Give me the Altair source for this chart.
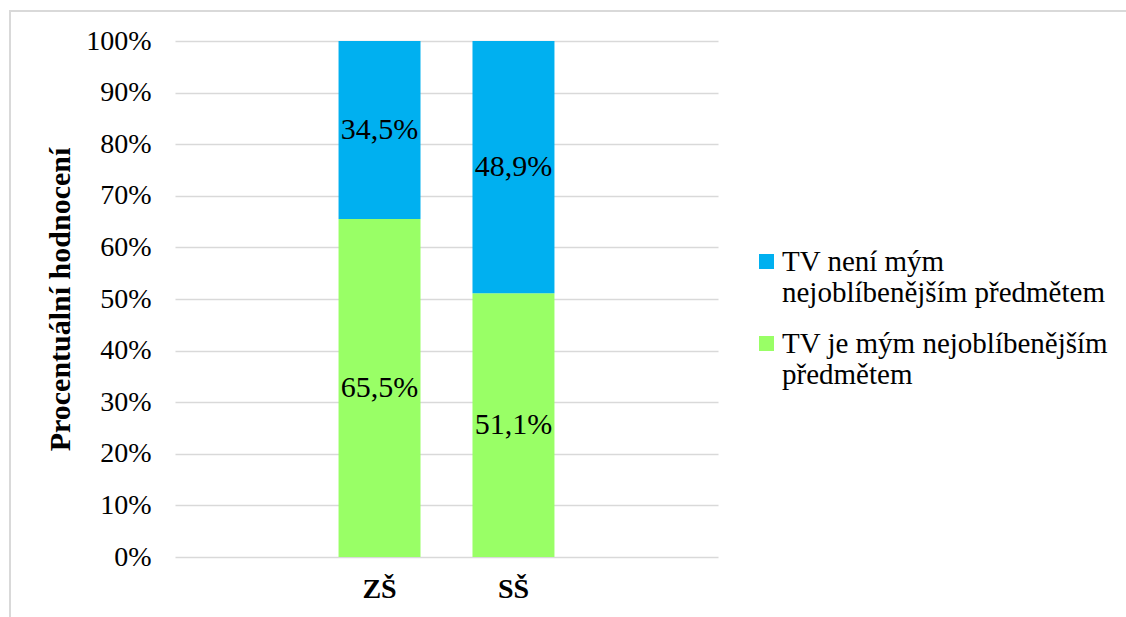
import altair as alt
import pandas as pd

# School level categories and the share of each answer (percent)
levels = ["ZŠ", "SŠ"]
x_slots = [" ", "ZŠ", "SŠ", "  "]  # empty slots either side of the two bars
answers = ["TV není mým nejoblíbenějším předmětem", "TV je mým nejoblíbenějším předmětem"]
share_favourite = [65.5, 51.1]
share_not_favourite = [34.5, 48.9]
colors = ["#00B0F0", "#99FF66"]
y_ticks = [0, 10, 20, 30, 40, 50, 60, 70, 80, 90, 100]

rows = []
for i, lvl in enumerate(levels):
    rows.append({"level": lvl, "answer": answers[1], "order": 0, "value": share_favourite[i]})
    rows.append({"level": lvl, "answer": answers[0], "order": 1, "value": share_not_favourite[i]})
df = pd.DataFrame(rows)

FONT = "'Times New Roman', 'Liberation Serif', 'DejaVu Serif', serif"
GRID = "#D9D9D9"

x_scale = alt.Scale(domain=x_slots, paddingInner=0.388, paddingOuter=0.221)

bars = alt.Chart(df).mark_bar().encode(
    x=alt.X(
        "level:N",
        scale=x_scale,
        axis=alt.Axis(
            title=None, labelAngle=0, labelFont=FONT, labelFontSize=28,
            labelFontWeight="bold", labelColor="#000000", labelPadding=18,
            ticks=False, domain=False,
        ),
    ),
    y=alt.Y(
        "value:Q",
        stack="zero",
        scale=alt.Scale(domain=[0, 100]),
        axis=alt.Axis(
            values=y_ticks, labelExpr="datum.value + '%'", title="Procentuální hodnocení",
            titleFont=FONT, titleFontSize=30, titleFontWeight="bold", titleColor="#000000",
            titlePadding=10, labelFont=FONT, labelFontSize=28, labelColor="#000000",
            labelPadding=24, ticks=False, domain=False, grid=True, gridColor=GRID,
            gridWidth=1.5,
        ),
    ),
    color=alt.Color(
        "answer:N",
        scale=alt.Scale(domain=answers, range=colors),
        legend=alt.Legend(
            title=None, orient="none", legendX=577, legendY=206,
            symbolType="square", symbolSize=225, symbolStrokeWidth=0,
            labelFont=FONT, labelFontSize=29, labelColor="#000000", labelLimit=400,
            labelOffset=1, rowPadding=21, padding=0,
            labelExpr="datum.label == 'TV není mým nejoblíbenějším předmětem' ? ['TV není mým', 'nejoblíbenějším předmětem'] : ['TV je mým nejoblíbenějším', 'předmětem']",
        ),
    ),
    order=alt.Order("order:Q"),
)

labels = alt.Chart(df).transform_stack(
    stack="value", groupby=["level"], as_=["y0", "y1"], sort=[alt.SortField("order")]
).transform_calculate(
    mid="(datum.y0 + datum.y1) / 2",
    txt="replace(format(datum.value, '.1f'), '.', ',') + '%'",
).mark_text(font=FONT, fontSize=30, color="#000000", baseline="middle").encode(
    x=alt.X("level:N", scale=x_scale),
    y=alt.Y("mid:Q"),
    text="txt:N",
)

# Light outer frame around the whole figure
frame = alt.Chart(pd.DataFrame({"k": [0]})).mark_rect(
    fill=None, stroke=GRID, strokeWidth=2, clip=False
).encode(
    x=alt.value(-165), x2=alt.value(960), y=alt.value(-30), y2=alt.value(600)
)

chart = alt.layer(frame, bars, labels).properties(
    width=543, height=516,
    autosize=alt.AutoSizeParams(type="none"),
    padding={"left": 175, "top": 41, "right": 408, "bottom": 60},
    background="#FFFFFF",
).configure_view(stroke=None)

chart.save("out.html", embed_options={"renderer": "svg", "actions": False})
